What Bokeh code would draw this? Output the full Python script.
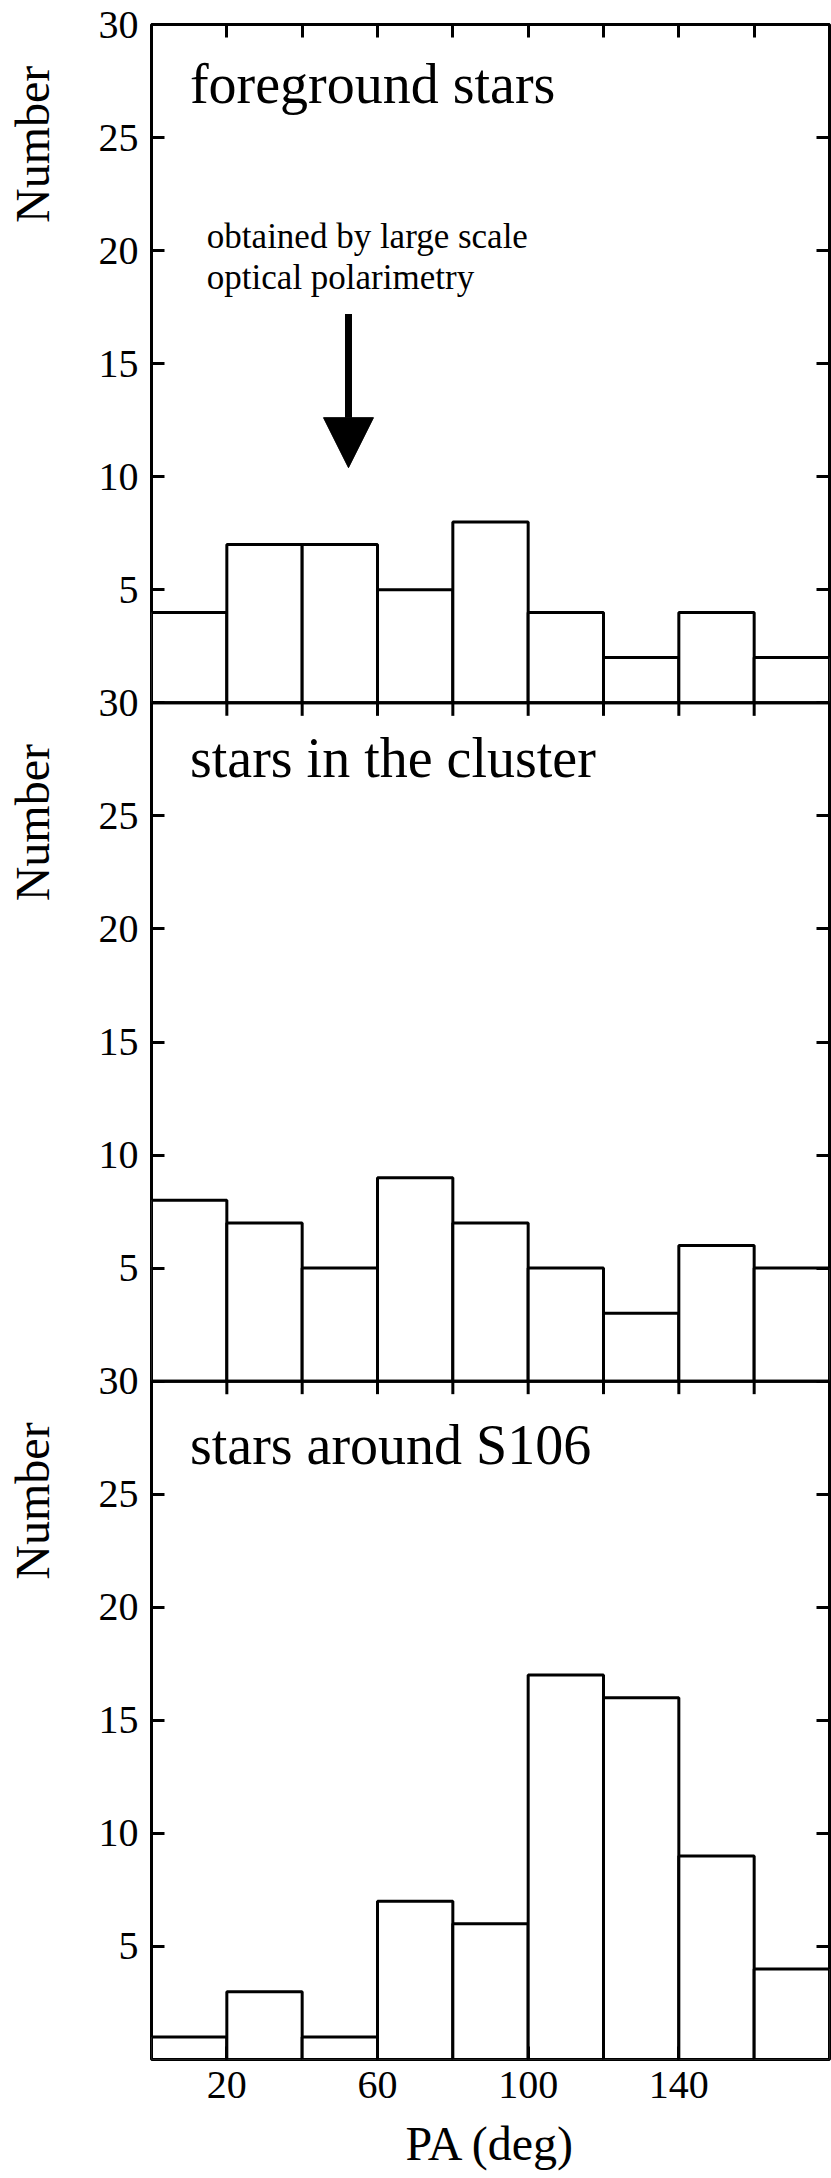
import math
from bokeh.plotting import figure
from bokeh.layouts import row
from bokeh.models import LinearAxis, FixedTicker, Span, Arrow, NormalHead
from bokeh.core.properties import value
from bokeh.embed import file_html
from bokeh.resources import INLINE

# ---------------- data ----------------
bin_edges = [0, 20, 40, 60, 80, 100, 120, 140, 160, 180]
foreground_counts = [4, 7, 7, 5, 8, 4, 2, 4, 2]
cluster_counts = [8, 7, 5, 9, 7, 5, 3, 6, 5]
s106_counts = [1, 3, 1, 7, 6, 17, 16, 9, 4]
panel_titles = ["foreground stars", "stars in the cluster", "stars around S106"]
title_heights = [27.39, 27.58, 27.18]
y_tick_values = [5, 10, 15, 20, 25, 30]
x_label_ticks = [20, 60, 100, 140]
x_minor_ticks = [20, 40, 60, 80, 100, 120, 140, 160]
note_lines = ["obtained by large scale", "optical polarimetry"]
note_heights = [20.63, 18.81]
arrow_pa = 52.3          # PA position of arrow
arrow_from, arrow_to = 17.2, 10.4

PANEL_MAX = 30
FONT = "Liberation Serif"
FRAME_W, FRAME_H = 678, 2035
LABEL_W = 70
BORDER_L, BORDER_T, BORDER_B = 151 - LABEL_W, 24, 112
TICK_PX = 13
LW = 3

panels = [foreground_counts, cluster_counts, s106_counts]
offsets = [PANEL_MAX * (len(panels) - 1 - i) for i in range(len(panels))]
y_total = PANEL_MAX * len(panels)

p = figure(frame_width=FRAME_W, frame_height=FRAME_H,
           x_range=(bin_edges[0], bin_edges[-1]), y_range=(0, y_total),
           output_backend="svg", toolbar_location=None,
           min_border_left=BORDER_L, min_border_right=2,
           min_border_top=BORDER_T, min_border_bottom=BORDER_B)
p.grid.visible = False
p.outline_line_color = "black"
p.outline_line_width = LW
p.background_fill_color = "white"
p.border_fill_color = "white"

# y ticks across all panels with labels repeating 5..30
all_yticks = []
overrides = {}
for off in offsets:
    for t in y_tick_values:
        all_yticks.append(off + t)
        overrides[off + t] = str(t)

def style_axis(ax):
    ax.axis_line_color = None
    ax.major_tick_in = TICK_PX
    ax.major_tick_out = 0
    ax.major_tick_line_width = LW
    ax.major_tick_line_color = "black"
    ax.minor_tick_line_color = None
    ax.major_label_text_font = FONT
    ax.major_label_text_color = "black"

yl = p.yaxis[0]
yl.ticker = FixedTicker(ticks=all_yticks)
yl.major_label_overrides = overrides
style_axis(yl)
yl.major_label_text_font_size = "40px"
yl.major_label_standoff = 13

xb = p.xaxis[0]
xb.ticker = FixedTicker(ticks=x_label_ticks)
style_axis(xb)
xb.major_label_text_font_size = "40px"
xb.major_label_standoff = 12
xb.axis_label = "PA (deg)"
xb.axis_label_text_font = FONT
xb.axis_label_text_font_size = "48px"
xb.axis_label_text_font_style = "normal"
xb.axis_label_text_color = "black"
xb.axis_label_standoff = 16

yr = LinearAxis(ticker=FixedTicker(ticks=all_yticks))
style_axis(yr)
yr.major_label_text_font_size = "1px"
yr.major_label_text_alpha = 0
yr.major_label_standoff = 0
p.add_layout(yr, "right")

xt = LinearAxis(ticker=FixedTicker(ticks=x_minor_ticks))
style_axis(xt)
xt.major_label_text_font_size = "1px"
xt.major_label_text_alpha = 0
xt.major_label_standoff = 0
p.add_layout(xt, "above")

px_per_unit = FRAME_H / y_total
tick_len = TICK_PX / px_per_unit

for counts, off in zip(panels, offsets):
    p.quad(left=bin_edges[:-1], right=bin_edges[1:],
           bottom=[off] * len(counts), top=[off + c for c in counts],
           fill_color="white", line_color="black", line_width=LW)
    # panel boundary + inward top ticks for inner panels
    if off + PANEL_MAX < y_total:
        p.add_layout(Span(location=off + PANEL_MAX, dimension="width",
                          line_color="black", line_width=LW))
        p.segment(x0=x_minor_ticks, x1=x_minor_ticks,
                  y0=[off + PANEL_MAX] * len(x_minor_ticks),
                  y1=[off + PANEL_MAX - tick_len] * len(x_minor_ticks),
                  line_color="black", line_width=LW)

# panel titles
p.text(x=[10.2] * len(panels), y=[off + th for off, th in zip(offsets, title_heights)],
       text=panel_titles, text_font=value(FONT), text_font_size="56px",
       text_align="left", text_baseline="alphabetic", text_color="black")

# note in top panel
top_off = offsets[0]
p.text(x=[14.7] * len(note_lines), y=[top_off + h for h in note_heights],
       text=note_lines, text_font=value(FONT), text_font_size="35px",
       text_align="left", text_baseline="alphabetic", text_color="black")

p.add_layout(Arrow(x_start=arrow_pa, y_start=top_off + arrow_from,
                   x_end=arrow_pa, y_end=top_off + arrow_to,
                   line_width=7, line_color="black",
                   end=NormalHead(size=50, fill_color="black", line_color="black", line_width=1)))

# left strip carrying the rotated "Number" labels, sharing the y range
pl = figure(frame_width=LABEL_W, frame_height=FRAME_H,
            x_range=(0, LABEL_W), y_range=p.y_range,
            output_backend="svg", toolbar_location=None,
            x_axis_location=None, y_axis_location=None,
            min_border_left=0, min_border_right=0,
            min_border_top=BORDER_T, min_border_bottom=BORDER_B)
pl.grid.visible = False
pl.outline_line_color = None
pl.background_fill_color = "white"
pl.border_fill_color = "white"
pl.text(x=[32] * len(panels), y=[off + 24.7 for off in offsets],
        text=["Number"] * len(panels), angle=math.pi / 2,
        text_font=value(FONT), text_font_size="48px",
        text_align="center", text_baseline="alphabetic", text_color="black")

layout = row(pl, p)
open("out.html", "w").write(file_html(layout, INLINE))
